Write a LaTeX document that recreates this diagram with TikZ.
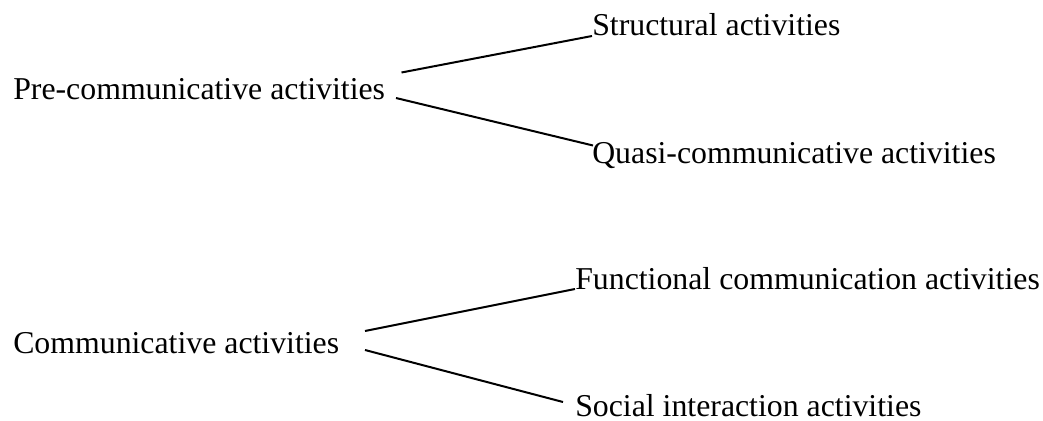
\documentclass[tikz,border=0pt]{standalone}
\usepackage{fontspec}
\setmainfont{Liberation Serif}
\begin{document}
\begin{tikzpicture}[x=0.75pt,y=-0.75pt,
  lbl/.style={anchor=base west,inner sep=0pt,font=\fontsize{23.85}{28}\selectfont},
  link/.style={line width=1.5pt}]
\useasboundingbox (0,0) rectangle (1043,421);
\node[lbl] (pre) at (13,99) {Pre-communicative activities};
\node[lbl] (struct) at (592,36) {Structural activities};
\node[lbl] (quasi) at (592,163) {Quasi-communicative activities};
\node[lbl] (comm) at (13,353) {Communicative activities};
\node[lbl] (func) at (575,289) {Functional communication activities};
\node[lbl] (social) at (575,416) {Social interaction activities};
\coordinate (p1) at (401.5,72.5);
\coordinate (p2) at (396,98);
\coordinate (q) at (593,145.5);
\coordinate (c1) at (365,331);
\coordinate (c2) at (365,350);
\coordinate (s) at (563,402);
\draw[link] (p1) -- (struct.base west);
\draw[link] (p2) -- (q);
\draw[link] (c1) -- (func.base west);
\draw[link] (c2) -- (s);
\end{tikzpicture}
\end{document}
